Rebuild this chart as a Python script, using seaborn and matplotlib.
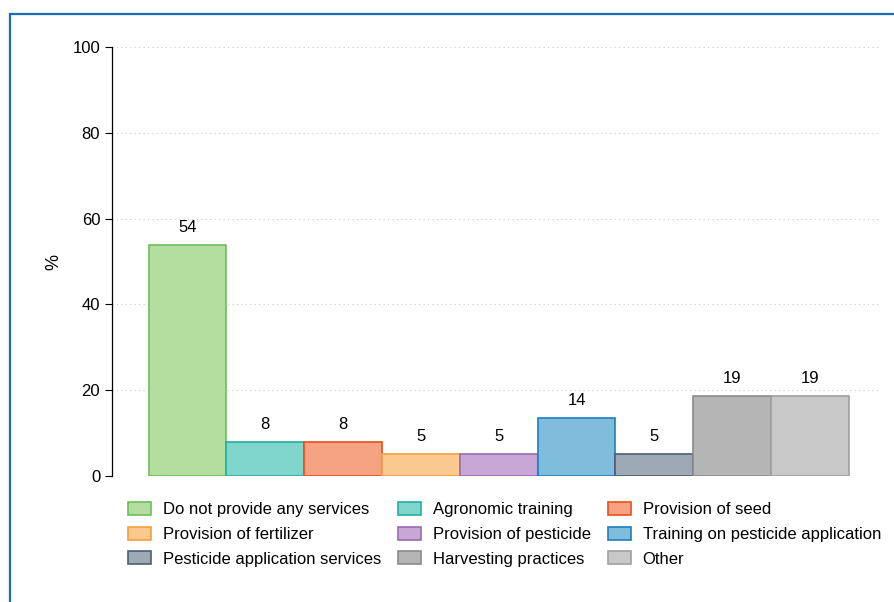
import matplotlib
matplotlib.use("Agg")
import matplotlib.pyplot as plt
import seaborn as sns
import pandas as pd
from matplotlib.patches import Patch, Rectangle

# dados
categorias = [
    "Do not provide any services",
    "Agronomic training",
    "Provision of seed",
    "Provision of fertilizer",
    "Provision of pesticide",
    "Training on pesticide application",
    "Pesticide application services",
    "Harvesting practices",
    "Other",
]
valores = [53.8, 7.9, 7.9, 5.2, 5.2, 13.6, 5.1, 18.7, 18.7]
cores_fill = ["#b3dea0", "#80d6cc", "#f5a382", "#fac98f", "#c7a8d4",
              "#80bcdb", "#9da9b3", "#b5b5b5", "#c8c8c8"]
cores_borda = ["#6cbf5a", "#1fb0a0", "#e8501a", "#f5a040", "#9a6bb0",
               "#1a7fbf", "#4a5f73", "#8a8a8a", "#a0a0a0"]
y_ticks = [0, 20, 40, 60, 80, 100]

df = pd.DataFrame({"cat": categorias, "pct": valores})

sns.set_style("white")
plt.rcParams["font.family"] = ["Liberation Sans", "DejaVu Sans"]
plt.rcParams["text.color"] = "black"
plt.rcParams["ytick.color"] = "black"
plt.rcParams["axes.labelcolor"] = "black"

fig = plt.figure(figsize=(8.95, 6.02), dpi=100)
ax = fig.add_axes([112 / 895, 1 - 476 / 602, (880 - 112) / 895, (476 - 47) / 602])

sns.barplot(data=df, x="cat", y="pct", hue="cat", order=categorias,
            hue_order=categorias, palette=cores_fill, width=1.0,
            dodge=False, legend=False, ax=ax, saturation=1)

for barra, borda in zip(ax.patches, cores_borda):
    barra.set_edgecolor(borda)
    barra.set_linewidth(1.2)

for cont in ax.containers:
    ax.bar_label(cont, fmt="%.0f", padding=7, fontsize=12, color="black")

ax.set_ylim(0, 100)
ax.set_xlim(-0.97, 8.9)
ax.set_yticks(y_ticks)
ax.set_xticks([])
ax.set_xlabel("")
ax.set_ylabel("%", fontsize=13, labelpad=7)
ax.tick_params(axis="y", labelsize=12, length=5, width=0.8, color="black", left=True)
ax.yaxis.grid(True, linestyle=(0, (1, 3)), color="#c8c8c8", linewidth=0.8)
ax.set_axisbelow(True)
for lado in ["top", "right", "bottom"]:
    ax.spines[lado].set_visible(False)
ax.spines["left"].set_color("black")
ax.spines["left"].set_linewidth(0.9)

# legenda (ordem por linhas, 3 colunas)
handles = [Patch(facecolor=f, edgecolor=e, linewidth=1.2, label=c)
           for f, e, c in zip(cores_fill, cores_borda, categorias)]
ordem = [0, 3, 6, 1, 4, 7, 2, 5, 8]
fig.legend(handles=[handles[i] for i in ordem], ncol=3, loc="upper left",
           bbox_to_anchor=(113 / 895, 1 - 487 / 602), frameon=False,
           fontsize=12, handlelength=1.4, handleheight=0.85,
           handletextpad=0.7, columnspacing=1.0, labelspacing=0.55)

# moldura azul (estilo Stata)
fig.patches.append(Rectangle((10 / 895, -0.1), 1.2, 1 - 14 / 602 + 0.1,
                             transform=fig.transFigure, fill=False,
                             edgecolor="#1a6bb5", linewidth=1.6))

fig.savefig("out.png", dpi=100)
